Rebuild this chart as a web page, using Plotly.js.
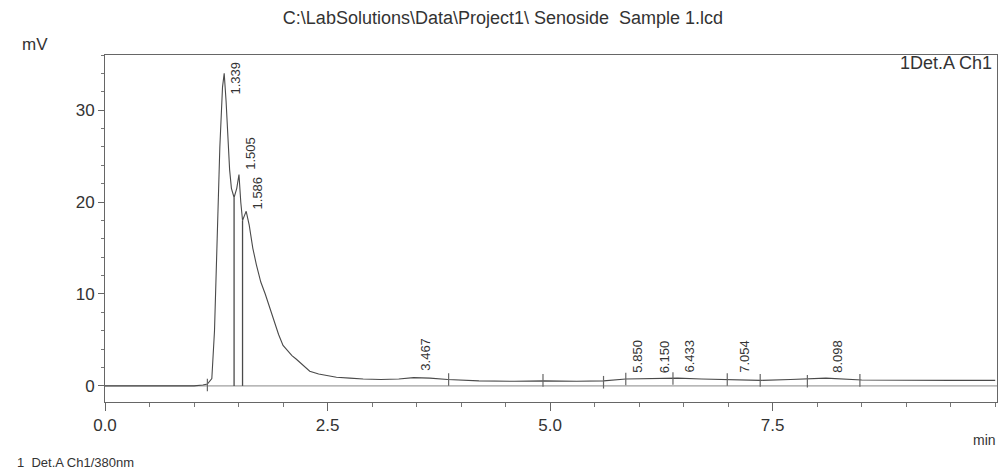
<!DOCTYPE html>
<html>
<head>
<meta charset="utf-8">
<script src="https://cdn.plot.ly/plotly-3.0.1.min.js"></script>
<style>html,body{margin:0;padding:0;background:#fff;}#chart{width:1000px;height:472px;}</style>
</head>
<body>
<div id="chart"></div>
<script>
// Chromatogram signal (time in min, signal in mV)
const timeMin = [0, 0.5, 1.0, 1.1, 1.15, 1.2, 1.23, 1.26, 1.29, 1.32, 1.339, 1.36, 1.38, 1.40, 1.42, 1.45, 1.48, 1.505, 1.525, 1.545, 1.565, 1.586, 1.62, 1.66, 1.70, 1.75, 1.80, 1.85, 1.90, 1.95, 2.00, 2.05, 2.10, 2.15, 2.20, 2.25, 2.30, 2.40, 2.50, 2.60, 2.75, 2.90, 3.10, 3.30, 3.467, 3.65, 3.85, 4.20, 4.60, 4.93, 5.30, 5.60, 5.85, 6.15, 6.433, 6.70, 7.054, 7.36, 7.70, 8.098, 8.50, 9.00, 9.50, 10.0];
const signalMv = [0, 0, 0, 0.1, 0.2, 0.8, 6, 16, 26, 32.5, 34, 31, 27, 23.5, 21.5, 20.5, 21.5, 23, 20, 18, 18.5, 19, 17.5, 15, 13.2, 11.3, 10, 8.5, 7, 5.6, 4.4, 3.8, 3.3, 2.9, 2.5, 2.0, 1.6, 1.3, 1.1, 0.95, 0.85, 0.75, 0.7, 0.75, 0.9, 0.85, 0.7, 0.55, 0.5, 0.55, 0.5, 0.55, 0.75, 0.8, 0.85, 0.75, 0.7, 0.6, 0.7, 0.85, 0.65, 0.6, 0.6, 0.6];

// Peak labels
const peakTimes = [1.339, 1.505, 1.586, 3.467, 5.850, 6.150, 6.433, 7.054, 8.098];
const peakLabels = ["1.339", "1.505", "1.586", "3.467", "5.850", "6.150", "6.433", "7.054", "8.098"];
const peakLabelY = [31.5, 23.3, 19.0, 1.4, 1.2, 1.2, 1.2, 1.2, 1.2];

// Peak separation drop lines
const dropTimes = [1.45, 1.545];
const dropTops = [20.5, 18];

// Integration marks on the baseline
const markTimes = [1.15, 3.86, 4.92, 5.60, 5.85, 6.38, 6.99, 7.36, 7.89, 8.48];
const markValues = [0.1, 0.7, 0.6, 0.4, 0.75, 0.8, 0.7, 0.6, 0.5, 0.6];

// Axis ticks
const xTickVals = [0, 2.5, 5.0, 7.5];
const xTickText = ["0.0", "2.5", "5.0", "7.5"];
const yTickVals = [0, 10, 20, 30];
const yTickText = ["0", "10", "20", "30"];

const lineColor = '#4a4a4a';
const textColor = '#333333';
const font = 'Liberation Sans, Arial, sans-serif';

const dropX = [], dropY = [];
dropTimes.forEach((t, i) => { dropX.push(t, t, null); dropY.push(0, dropTops[i], null); });

const traces = [
  {x: [0, 10.02], y: [0, 0], mode: 'lines', line: {color: '#888', width: 1}, hoverinfo: 'skip', showlegend: false},
  {x: timeMin, y: signalMv, mode: 'lines', line: {color: lineColor, width: 1.1}, showlegend: false},
  {x: dropX, y: dropY, mode: 'lines', line: {color: lineColor, width: 1.3}, showlegend: false, hoverinfo: 'skip'},
  {x: markTimes, y: markValues, mode: 'markers', marker: {symbol: 'line-ns-open', size: 9, color: '#666', line: {color: '#666', width: 1.2}}, showlegend: false, hoverinfo: 'skip'}
];

const annotations = peakTimes.map((t, i) => ({
  x: t, y: peakLabelY[i], xref: 'x', yref: 'y', text: peakLabels[i], textangle: -90,
  showarrow: false, xanchor: 'left', yanchor: 'bottom', xshift: 2,
  font: {family: font, size: 13, color: textColor}
}));
annotations.push(
  {xref: 'paper', yref: 'paper', x: -0.0785, y: 1.029, text: 'mV', showarrow: false, xanchor: 'center', yanchor: 'middle', font: {family: font, size: 17, color: textColor}},
  {xref: 'paper', yref: 'paper', x: 0.9865, y: -0.11, text: 'min', showarrow: false, xanchor: 'center', yanchor: 'middle', font: {family: font, size: 14, color: textColor}},
  {xref: 'paper', yref: 'paper', x: -0.101, y: -0.173, text: '1  Det.A Ch1/380nm', showarrow: false, xanchor: 'left', yanchor: 'middle', font: {family: font, size: 13, color: textColor}},
  {xref: 'paper', yref: 'paper', x: 0.9966, y: 0.977, text: '1Det.A Ch1', showarrow: false, xanchor: 'right', yanchor: 'middle', font: {family: font, size: 18, color: textColor}}
);

const layout = {
  width: 1000, height: 472,
  margin: {l: 105, r: 3, t: 55, b: 70},
  paper_bgcolor: '#fff', plot_bgcolor: '#fff',
  title: {text: 'C:\\LabSolutions\\Data\\Project1\\ Senoside  Sample 1.lcd', x: 0.503, xref: 'container', y: 0.962, yanchor: 'middle', font: {family: font, size: 18, color: textColor}},
  xaxis: {
    range: [0, 10.02], showgrid: false, zeroline: false, showline: true, linecolor: '#666', linewidth: 1, mirror: true,
    ticks: 'outside', ticklen: 8, tickcolor: '#666', tickvals: xTickVals, ticktext: xTickText,
    tickfont: {family: font, size: 17, color: textColor},
    minor: {dtick: 0.5, tick0: 0, ticks: 'outside', ticklen: 4, tickcolor: '#777'}
  },
  yaxis: {
    range: [-1.75, 36], showgrid: false, zeroline: false, showline: true, linecolor: '#666', linewidth: 1, mirror: true,
    ticks: 'outside', ticklen: 6, tickcolor: '#666', tickvals: yTickVals, ticktext: yTickText,
    tickfont: {family: font, size: 17, color: textColor},
    minor: {dtick: 2, tick0: 0, ticks: 'outside', ticklen: 3, tickcolor: '#777'}
  },
  annotations: annotations
};

Plotly.newPlot('chart', traces, layout, {displayModeBar: false, staticPlot: true});
</script>
</body>
</html>
